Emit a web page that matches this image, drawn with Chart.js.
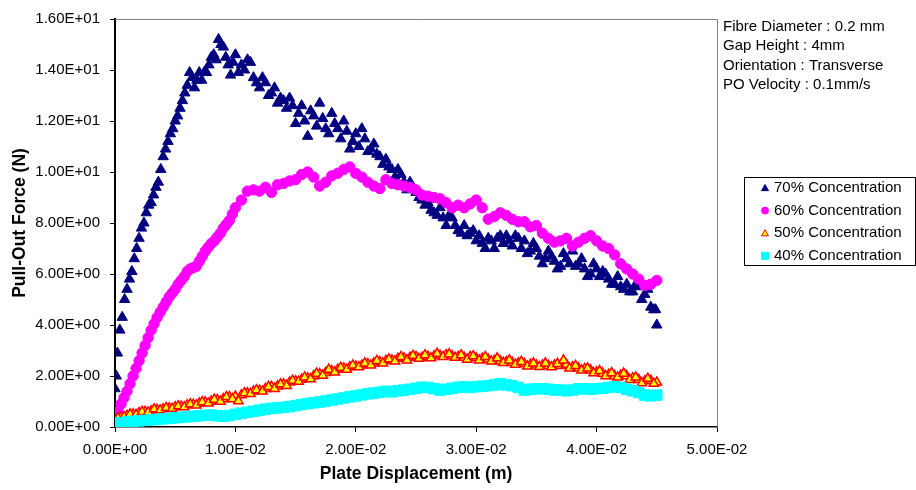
<!DOCTYPE html>
<html>
<head>
<meta charset="utf-8">
<script src="https://cdn.jsdelivr.net/npm/chart.js@4"></script>
<style>
  body { margin: 0; background: #fff; }
  #wrap { width: 916px; height: 490px; }
</style>
</head>
<body>
<div id="wrap"><canvas id="chart" width="916" height="490"></canvas></div>
<script>
// plate displacement (m) for the 60/50/40 % runs
const disp = [
    0, 0.0005, 0.001, 0.0015, 0.002, 0.0025, 0.003, 0.0035, 0.004, 0.0045,
    0.005, 0.0055, 0.006, 0.0065, 0.007, 0.0075, 0.008, 0.0085, 0.009, 0.0095,
    0.01, 0.0105, 0.011, 0.0115, 0.012, 0.0125, 0.013, 0.0135, 0.014, 0.0145,
    0.015, 0.0155, 0.016, 0.0165, 0.017, 0.0175, 0.018, 0.0185, 0.019, 0.0195,
    0.02, 0.0205, 0.021, 0.0215, 0.022, 0.0225, 0.023, 0.0235, 0.024, 0.0245,
    0.025, 0.0255, 0.026, 0.0265, 0.027, 0.0275, 0.028, 0.0285, 0.029, 0.0295,
    0.03, 0.0305, 0.031, 0.0315, 0.032, 0.0325, 0.033, 0.0335, 0.034, 0.0345,
    0.035, 0.0355, 0.036, 0.0365, 0.037, 0.0375, 0.038, 0.0385, 0.039, 0.0395,
    0.04, 0.0405, 0.041, 0.0415, 0.042, 0.0425, 0.043, 0.0435, 0.044, 0.0445,
    0.045
];
// readings taken half way between the ones above
const dispMid = [
    0.00025, 0.00075, 0.00125, 0.00175, 0.00225, 0.00275, 0.00325, 0.00375, 0.00425, 0.00475,
    0.00525, 0.00575, 0.00625, 0.00675, 0.00725, 0.00775, 0.00825, 0.00875, 0.00925, 0.00975,
    0.01025, 0.01075, 0.01125, 0.01175, 0.01225, 0.01275, 0.01325, 0.01375, 0.01425, 0.01475,
    0.01525, 0.01575, 0.01625, 0.01675, 0.01725, 0.01775, 0.01825, 0.01875, 0.01925, 0.01975,
    0.02025, 0.02075, 0.02125, 0.02175, 0.02225, 0.02275, 0.02325, 0.02375, 0.02425, 0.02475,
    0.02525, 0.02575, 0.02625, 0.02675, 0.02725, 0.02775, 0.02825, 0.02875, 0.02925, 0.02975,
    0.03025, 0.03075, 0.03125, 0.03175, 0.03225, 0.03275, 0.03325, 0.03375, 0.03425, 0.03475,
    0.03525, 0.03575, 0.03625, 0.03675, 0.03725, 0.03775, 0.03825, 0.03875, 0.03925, 0.03975,
    0.04025, 0.04075, 0.04125, 0.04175, 0.04225, 0.04275, 0.04325, 0.04375, 0.04425, 0.04475
];

// the 70 % run was logged finer at the start
const disp70 = [
    0, 0.0001, 0.0002, 0.0004, 0.0006, 0.0008, 0.001, 0.0012, 0.0014, 0.0016,
    0.0018, 0.002, 0.0022, 0.0024, 0.0026, 0.0028, 0.003, 0.0032, 0.0034, 0.0036,
    0.0038, 0.004, 0.0042, 0.0044, 0.0046, 0.0048, 0.005, 0.0052, 0.0054, 0.0056,
    0.0058, 0.006, 0.0062, 0.0064, 0.0066, 0.0068, 0.007, 0.0072, 0.0074, 0.0076,
    0.0078, 0.008, 0.0082, 0.0084, 0.0086, 0.0088, 0.009, 0.0092, 0.0094, 0.0096,
    0.0098, 0.01,
    0.0105, 0.011, 0.0115, 0.012, 0.0125, 0.013, 0.0135, 0.014, 0.0145,
    0.015, 0.0155, 0.016, 0.0165, 0.017, 0.0175, 0.018, 0.0185, 0.019, 0.0195,
    0.02, 0.0205, 0.021, 0.0215, 0.022, 0.0225, 0.023, 0.0235, 0.024, 0.0245,
    0.025, 0.0255, 0.026, 0.0265, 0.027, 0.0275, 0.028, 0.0285, 0.029, 0.0295,
    0.03, 0.0305, 0.031, 0.0315, 0.032, 0.0325, 0.033, 0.0335, 0.034, 0.0345,
    0.035, 0.0355, 0.036, 0.0365, 0.037, 0.0375, 0.038, 0.0385, 0.039, 0.0395,
    0.04, 0.0405, 0.041, 0.0415, 0.042, 0.0425, 0.043, 0.0435, 0.044, 0.0445,
    0.0449, 0.045
];
// in-between readings of the 70 % run (the scattered band after the peak)
const disp70b = [
    0.01025, 0.01075, 0.01125, 0.01175, 0.01225, 0.01275, 0.01325, 0.01375, 0.01425, 0.01475,
    0.01525, 0.01575, 0.01625, 0.01675, 0.01725, 0.01775, 0.01825, 0.01875, 0.01925, 0.01975,
    0.02025, 0.02075, 0.02125, 0.02175, 0.02225, 0.02275, 0.02325, 0.02375, 0.02425, 0.02475,
    0.02525, 0.02575, 0.02625, 0.02675, 0.02725, 0.02775, 0.02825, 0.02875, 0.02925, 0.02975,
    0.03025, 0.03075, 0.03125, 0.03175, 0.03225, 0.03275, 0.03325, 0.03375, 0.03425, 0.03475,
    0.03525, 0.03575, 0.03625, 0.03675, 0.03725, 0.03775, 0.03825, 0.03875, 0.03925, 0.03975,
    0.04025, 0.04075, 0.04125, 0.04175, 0.04225, 0.04275, 0.04325, 0.04375, 0.04425, 0.04475
];
// in-between readings of the 60 % run on its steep rise
const disp60b = [
    0.00025, 0.00075, 0.00125, 0.00175, 0.00225, 0.00275, 0.00325, 0.00375, 0.00425, 0.00475,
    0.00525, 0.00575, 0.00625, 0.00675, 0.00725, 0.00775, 0.00825, 0.00875, 0.00925, 0.00975
];

// pull-out force (N)
const force70 = [
    1.5, 2.0, 2.9, 3.8, 4.3, 5.0, 5.4, 5.8, 6.1, 6.6,
    7.0, 7.4, 7.8, 8.0, 8.4, 8.7, 8.8, 9.1, 9.4, 9.6,
    10.1, 10.6, 10.9, 11.2, 11.5, 11.7, 12.0, 12.2, 12.5, 12.8,
    13.1, 13.4, 13.9, 13.7, 13.3, 13.6, 13.9, 13.6, 13.9, 13.9,
    14.2, 14.5, 14.6, 14.4, 15.2, 15.0, 14.9, 14.5, 14.2, 13.8,
    14.3, 14.6,
    14.2, 14.4, 13.7, 13.3, 13.5, 13.1, 12.7, 12.8, 12.9,
    11.9, 12.6, 11.4, 12.2, 12.7, 11.7, 12.3, 11.7, 12.0, 10.9,
    11.5, 11.7, 10.8, 11.1, 10.6, 10.5, 10.1, 10.1, 9.6, 9.6,
    9.2, 8.9, 8.8, 8.4, 8.6, 7.9, 8.2, 7.7, 7.9, 7.6,
    7.3, 7.2, 7.4, 7.0, 7.5, 7.5, 7.1, 7.4, 7.3, 6.9,
    7.0, 6.4, 6.9, 6.5, 6.3, 6.6, 6.9, 6.4, 6.2, 6.0,
    6.2, 6.1, 5.8, 5.6, 5.5, 5.6, 5.3, 5.5, 5.2, 4.7,
    4.6, 4.0
];
const force70b = [
    13.9, 14.0, 14.3, 13.5, 13.7, 13.0, 13.3, 12.9, 12.5, 12.6,
    12.3, 12.0, 12.4, 11.8, 12.1, 11.5, 11.9, 11.3, 11.6, 11.2,
    11.0, 11.3, 10.9, 10.7, 10.3, 10.2, 9.8, 9.9, 9.3, 9.4,
    9.0, 8.7, 8.5, 8.3, 8.2, 8.3, 7.9, 7.6, 7.5, 7.7,
    7.5, 7.0, 7.3, 7.4, 7.2, 7.3, 7.5, 7.0, 6.8, 7.2,
    6.7, 6.6, 6.7, 6.2, 6.8, 6.4, 6.3, 6.6, 5.9, 6.4,
    5.9, 6.0, 5.6, 5.9, 5.4, 5.3, 5.6, 5.0, 5.4, 4.6
];
const force60 = [
    0.3, 0.9, 1.4, 2.0, 2.6, 3.2, 3.8, 4.3, 4.7, 5.1,
    5.4, 5.75, 6.1, 6.25, 6.5, 6.9, 7.2, 7.45, 7.8, 8.1,
    8.6, 8.9, 9.25, 9.3, 9.25, 9.4, 9.2, 9.5, 9.55, 9.65,
    9.7, 9.9, 10.0, 9.8, 9.45, 9.6, 9.85, 9.95, 10.1, 10.2,
    9.95, 9.8, 9.6, 9.45, 9.35, 9.7, 9.55, 9.5, 9.45, 9.4,
    9.3, 9.1, 9.05, 9.0, 8.95, 8.8, 8.6, 8.7, 8.6, 8.75,
    8.9, 8.6, 8.15, 8.25, 8.4, 8.3, 8.15, 8.05, 8.05, 7.85,
    7.9, 7.6, 7.4, 7.25, 7.3, 7.4, 7.1, 7.25, 7.4, 7.5,
    7.3, 7.1, 7.0, 6.75, 6.4, 6.2, 6.0, 5.8, 5.55, 5.6,
    5.75
];
const force60b = [
    0.6, 1.15, 1.7, 2.3, 2.9, 3.5, 4.05, 4.5, 4.9, 5.25,
    5.6, 5.9, 6.2, 6.3, 6.7, 7.05, 7.3, 7.6, 7.95, 8.35
];
const force50 = [
    0.3, 0.38, 0.45, 0.5, 0.55, 0.6, 0.62, 0.68, 0.7, 0.74,
    0.78, 0.8, 0.86, 0.88, 0.93, 0.97, 1.0, 1.06, 1.1, 1.18,
    1.2, 1.25, 1.33, 1.4, 1.43, 1.5, 1.58, 1.6, 1.68, 1.75,
    1.8, 1.86, 1.92, 2.0, 2.08, 2.13, 2.2, 2.25, 2.3, 2.35,
    2.38, 2.42, 2.47, 2.5, 2.55, 2.6, 2.62, 2.68, 2.7, 2.72,
    2.75, 2.72, 2.76, 2.78, 2.8, 2.82, 2.78, 2.75, 2.72, 2.75,
    2.7, 2.68, 2.65, 2.6, 2.58, 2.55, 2.52, 2.5, 2.48, 2.45,
    2.42, 2.42, 2.4, 2.42, 2.4, 2.45, 2.35, 2.3, 2.28, 2.22,
    2.15, 2.1, 2.05, 2.0, 2.02, 2.0, 1.92, 1.85, 1.8, 1.82,
    1.75
];
const force50b = [
    0.35, 0.4, 0.5, 0.48, 0.6, 0.58, 0.7, 0.66, 0.75, 0.72,
    0.82, 0.78, 0.9, 0.85, 0.98, 0.93, 1.08, 1.0, 1.18, 1.1,
    1.02, 1.33, 1.3, 1.45, 1.4, 1.58, 1.5, 1.68, 1.62, 1.82,
    1.78, 1.95, 1.88, 2.1, 2.02, 2.25, 2.15, 2.33, 2.25, 2.42,
    2.35, 2.5, 2.42, 2.6, 2.5, 2.66, 2.58, 2.75, 2.62, 2.8,
    2.68, 2.82, 2.7, 2.88, 2.75, 2.86, 2.72, 2.82, 2.65, 2.78,
    2.62, 2.75, 2.58, 2.7, 2.52, 2.62, 2.45, 2.56, 2.38, 2.5,
    2.36, 2.5, 2.35, 2.48, 2.62, 2.3, 2.4, 2.22, 2.3, 2.12,
    2.2, 2.0, 2.12, 1.95, 2.1, 1.85, 1.95, 1.72, 1.9, 1.7
];
const force40 = [
    0.15, 0.17, 0.2, 0.22, 0.24, 0.26, 0.28, 0.3, 0.32, 0.34,
    0.36, 0.38, 0.4, 0.42, 0.44, 0.46, 0.47, 0.44, 0.42, 0.45,
    0.5, 0.54, 0.58, 0.62, 0.66, 0.7, 0.73, 0.75, 0.77, 0.8,
    0.84, 0.88, 0.92, 0.95, 0.98, 1.02, 1.06, 1.1, 1.14, 1.18,
    1.22, 1.26, 1.3, 1.33, 1.36, 1.4, 1.38, 1.42, 1.45, 1.48,
    1.52, 1.56, 1.55, 1.5, 1.45, 1.48, 1.52, 1.56, 1.58, 1.55,
    1.58, 1.6, 1.62, 1.65, 1.7, 1.65, 1.62, 1.55, 1.45, 1.48,
    1.5, 1.5, 1.48, 1.45, 1.45, 1.42, 1.45, 1.5, 1.5, 1.48,
    1.5, 1.52, 1.55, 1.58, 1.55, 1.48, 1.42, 1.35, 1.25, 1.22,
    1.25
];

const seriesLabels = ["70% Concentration", "60% Concentration", "50% Concentration", "40% Concentration"];
const notes = ["Fibre Diameter : 0.2 mm", "Gap Height : 4mm", "Orientation : Transverse", "PO Velocity : 0.1mm/s"];

const FONT = "'Liberation Sans', Arial, sans-serif";

function pairs(xs, ys) {
    return ys.map((y, i) => ({ x: xs[i], y: y }));
}

// Excel style 1.00E-02
function sci(v) {
    if (Math.abs(v) < 1e-12) return "0.00E+00";
    const parts = v.toExponential(2).split("e");
    const e = parseInt(parts[1], 10);
    return parts[0] + "E" + (e < 0 ? "-" : "+") + String(Math.abs(e)).padStart(2, "0");
}

const markers = [
    { style: "triangle", fill: "#000080", stroke: "#000080" },
    { style: "circle", fill: "#FF00FF", stroke: "#FF00FF" },
    { style: "triangle", fill: "#FFFF00", stroke: "#FF0000" },
    { style: "rect", fill: "#00FFFF", stroke: "#00FFFF" }
];

function drawMarker(ctx, m, x, y, s) {
    ctx.save();
    ctx.fillStyle = m.fill;
    ctx.strokeStyle = m.stroke;
    ctx.lineWidth = 1;
    ctx.beginPath();
    if (m.style === "triangle") {
        ctx.moveTo(x, y - s);
        ctx.lineTo(x + s, y + s * 0.75);
        ctx.lineTo(x - s, y + s * 0.75);
        ctx.closePath();
    } else if (m.style === "circle") {
        ctx.arc(x, y, s, 0, Math.PI * 2);
    } else {
        ctx.rect(x - s, y - s, s * 2, s * 2);
    }
    ctx.fill();
    ctx.stroke();
    ctx.restore();
}

const extras = {
    id: "extras",
    beforeDatasetsDraw(chart) {
        const { ctx, chartArea: a } = chart;
        ctx.save();
        ctx.strokeStyle = "#808080";
        ctx.lineWidth = 1;
        ctx.beginPath();
        ctx.moveTo(a.left, a.top + 0.5);
        ctx.lineTo(a.right + 0.5, a.top + 0.5);
        ctx.lineTo(a.right + 0.5, a.bottom);
        ctx.stroke();
        ctx.restore();
    },
    afterDraw(chart) {
        const ctx = chart.ctx;
        ctx.save();
        ctx.font = "15px " + FONT;
        ctx.fillStyle = "#000";
        ctx.textBaseline = "middle";
        notes.forEach((t, i) => ctx.fillText(t, 723, 27 + i * 19.3));

        // legend box
        ctx.strokeStyle = "#000";
        ctx.lineWidth = 1;
        ctx.strokeRect(744.5, 177.5, 171, 88);
        seriesLabels.forEach((t, i) => {
            const y = 188 + i * 22.6;
            drawMarker(ctx, markers[i], 765, y, 3.5);
            ctx.fillStyle = "#000";
            ctx.fillText(t, 774, y);
        });
        ctx.restore();
    }
};

const sizes = [6, 5.2, 5.4, 7.4];
const order = [4, 3, 2, 1];
const datasets = [
    pairs(disp70, force70).concat(pairs(disp70b, force70b)),
    pairs(disp, force60).concat(pairs(disp60b, force60b)),
    pairs(disp, force50).concat(pairs(dispMid, force50b)),
    pairs(disp, force40)
].map((data, i) => ({
    label: seriesLabels[i],
    data: data,
    showLine: false,
    order: order[i],
    pointStyle: markers[i].style,
    pointRadius: sizes[i],
    pointHoverRadius: sizes[i],
    backgroundColor: markers[i].fill,
    borderColor: markers[i].stroke,
    pointBorderWidth: i === 2 ? 1.5 : 1
}));

new Chart(document.getElementById("chart").getContext("2d"), {
    type: "scatter",
    data: { datasets: datasets },
    plugins: [extras],
    options: {
        responsive: false,
        animation: false,
        layout: { padding: { left: 0, top: 15, right: 199, bottom: 0 } },
        plugins: {
            legend: { display: false },
            tooltip: { enabled: false }
        },
        scales: {
            x: {
                type: "linear",
                min: 0,
                max: 0.05,
                afterFit: scale => { scale.height = 63; },
                border: { color: "#000", width: 1.5 },
                grid: { display: true, drawOnChartArea: false, color: "#000", tickLength: 5 },
                ticks: {
                    stepSize: 0.01,
                    padding: 9,
                    color: "#000",
                    font: { family: FONT, size: 15 },
                    callback: v => sci(v)
                },
                title: {
                    display: true,
                    text: "Plate Displacement (m)",
                    color: "#000",
                    font: { family: FONT, size: 17.5, weight: "bold" },
                    padding: { top: 0, bottom: 5 }
                }
            },
            y: {
                type: "linear",
                min: 0,
                max: 16,
                afterFit: scale => { scale.width = 115; },
                border: { color: "#000", width: 2 },
                grid: { display: true, drawOnChartArea: false, color: "#000", tickLength: 5 },
                ticks: {
                    stepSize: 2,
                    padding: 10,
                    color: "#000",
                    font: { family: FONT, size: 15 },
                    callback: v => sci(v)
                },
                title: {
                    display: true,
                    text: "Pull-Out Force (N)",
                    color: "#000",
                    font: { family: FONT, size: 17.5, weight: "bold" },
                    padding: { top: 10, bottom: 0 }
                }
            }
        }
    }
});
</script>
</body>
</html>
